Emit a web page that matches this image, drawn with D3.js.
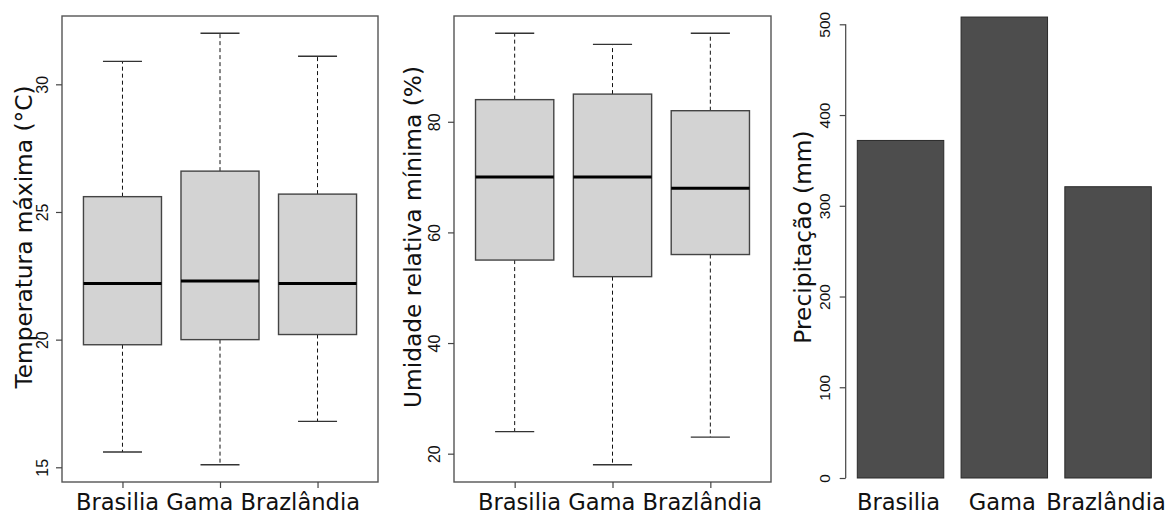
<!DOCTYPE html>
<html>
<head>
<meta charset="utf-8">
<script src="https://cdn.jsdelivr.net/npm/d3@7"></script>
<style>
  html, body { margin: 0; padding: 0; background: #fff; }
  svg { display: block; }
</style>
</head>
<body>
<svg id="chart" width="1170" height="515"></svg>
<script>
// Stations shown in every panel
const categories = ["Brasilia", "Gama", "Brazlândia"];

// Maximum temperature (°C): whisker ends, quartiles and medians
const tempLow    = [15.6, 15.1, 16.8];
const tempQ1     = [19.8, 20.0, 20.2];
const tempMedian = [22.2, 22.3, 22.2];
const tempQ3     = [25.6, 26.6, 25.7];
const tempHigh   = [30.9, 32.0, 31.1];
const tempTicks  = [15, 20, 25, 30];

// Minimum relative humidity (%)
const humLow    = [24, 18, 23];
const humQ1     = [55, 52, 56];
const humMedian = [70, 70, 68];
const humQ3     = [84, 85, 82];
const humHigh   = [96, 94, 96];
const humTicks  = [20, 40, 60, 80];

// Accumulated precipitation (mm)
const precip      = [372, 508, 321];
const precipTicks = [0, 100, 200, 300, 400, 500];

const svg = d3.select("#chart");
const TITLE_FONT = "'DejaVu Sans', Verdana, sans-serif";
const TICK_FONT = "'Liberation Sans', Arial, sans-serif";

// Rotated y-axis labels, reading bottom-to-top
function styleLeftAxis(g, offset) {
  g.select(".domain").remove();
  g.selectAll(".tick line").attr("stroke", "#444").attr("stroke-width", 1.2);
  g.selectAll(".tick text")
    .attr("transform", "rotate(-90)")
    .attr("x", 0)
    .attr("y", -offset)
    .attr("dy", 0)
    .attr("text-anchor", "middle")
    .attr("fill", "#111")
    .style("font-family", TICK_FONT)
    .style("font-size", "16px");
}

function yTitle(x, text) {
  svg.append("text")
    .attr("transform", `translate(${x},237) rotate(-90)`)
    .attr("text-anchor", "middle")
    .style("font-family", TITLE_FONT)
    .style("font-size", "23.3px")
    .attr("fill", "#111")
    .text(text);
}

function boxPanel(opts) {
  const { left, right, top, bottom, low, q1, med, q3, high, ticks, title, titleX, labelShift } = opts;
  const g = svg.append("g");
  // Category positions 1..n with the usual 4% padded range
  const x = d3.scaleLinear().domain([0.38, 3.62]).range([left, right]);
  const lo = d3.min(low), hi = d3.max(high), pad = (hi - lo) * 0.04;
  const y = d3.scaleLinear().domain([lo - pad, hi + pad]).range([bottom, top]);
  const boxW = x(0.8) - x(0);
  const capW = boxW / 2;

  const items = categories.map((c, i) => ({
    c, pos: i + 1, low: low[i], q1: q1[i], med: med[i], q3: q3[i], high: high[i]
  }));

  const box = g.selectAll("g.box").data(items).join("g").attr("class", "box");
  // whiskers
  box.append("line")
    .attr("x1", d => x(d.pos)).attr("x2", d => x(d.pos))
    .attr("y1", d => y(d.q3)).attr("y2", d => y(d.high))
    .attr("stroke", "#111").attr("stroke-width", 1).attr("stroke-dasharray", "4,3");
  box.append("line")
    .attr("x1", d => x(d.pos)).attr("x2", d => x(d.pos))
    .attr("y1", d => y(d.q1)).attr("y2", d => y(d.low))
    .attr("stroke", "#111").attr("stroke-width", 1).attr("stroke-dasharray", "4,3");
  // whisker caps
  ["high", "low"].forEach(k => {
    box.append("line")
      .attr("x1", d => x(d.pos) - capW / 2).attr("x2", d => x(d.pos) + capW / 2)
      .attr("y1", d => y(d[k])).attr("y2", d => y(d[k]))
      .attr("stroke", "#333").attr("stroke-width", 1.3);
  });
  // boxes
  box.append("rect")
    .attr("x", d => x(d.pos) - boxW / 2)
    .attr("width", boxW)
    .attr("y", d => y(d.q3))
    .attr("height", d => y(d.q1) - y(d.q3))
    .attr("fill", "#d3d3d3")
    .attr("stroke", "#444").attr("stroke-width", 1.4);
  // medians
  box.append("line")
    .attr("x1", d => x(d.pos) - boxW / 2).attr("x2", d => x(d.pos) + boxW / 2)
    .attr("y1", d => y(d.med)).attr("y2", d => y(d.med))
    .attr("stroke", "#000").attr("stroke-width", 3);

  // frame
  g.append("rect")
    .attr("x", left).attr("y", top)
    .attr("width", right - left).attr("height", bottom - top)
    .attr("fill", "none").attr("stroke", "#555").attr("stroke-width", 1.4);

  // y axis
  g.append("g")
    .attr("transform", `translate(${left},0)`)
    .call(d3.axisLeft(y).tickValues(ticks).tickSize(6).tickFormat(d3.format("d")))
    .call(a => styleLeftAxis(a, 14));

  // x axis tick marks
  const xa = g.append("g")
    .attr("transform", `translate(0,${bottom})`)
    .call(d3.axisBottom(x).tickValues(items.map(d => d.pos)).tickSize(6).tickFormat(""));
  xa.select(".domain").remove();
  xa.selectAll(".tick line").attr("stroke", "#444").attr("stroke-width", 1.2);

  // station names written as one line under the axis
  g.append("text")
    .attr("x", (left + right) / 2 + labelShift)
    .attr("y", 510)
    .attr("text-anchor", "middle")
    .style("font-family", TITLE_FONT)
    .style("font-size", "22.6px")
    .attr("fill", "#111")
    .text(categories.join(" "));

  yTitle(titleX, title);
}

boxPanel({
  left: 62, right: 378, top: 16, bottom: 482,
  low: tempLow, q1: tempQ1, med: tempMedian, q3: tempQ3, high: tempHigh,
  ticks: tempTicks, title: "Temperatura máxima (°C)", titleX: 32, labelShift: -2
});

boxPanel({
  left: 454, right: 771, top: 16, bottom: 482,
  low: humLow, q1: humQ1, med: humMedian, q3: humQ3, high: humHigh,
  ticks: humTicks, title: "Umidade relativa mínima (%)", titleX: 421, labelShift: 7.5
});

// Precipitation bar chart
(function () {
  const g = svg.append("g");
  const axisX = 845.7;
  const y = d3.scaleLinear().domain([0, 500]).range([478, 24.3]);
  const x = d3.scaleBand().domain(categories).range([857.3, 1151.3])
    .paddingInner(0.2 / 1.2).paddingOuter(0);

  g.selectAll("rect.bar")
    .data(categories.map((c, i) => ({ c, v: precip[i] })))
    .join("rect")
    .attr("class", "bar")
    .attr("x", d => x(d.c))
    .attr("width", x.bandwidth())
    .attr("y", d => y(d.v))
    .attr("height", d => y(0) - y(d.v))
    .attr("fill", "#4d4d4d")
    .attr("stroke", "#2a2a2a")
    .attr("stroke-width", 1);

  const ya = g.append("g")
    .attr("transform", `translate(${axisX},0)`)
    .call(d3.axisLeft(y).tickValues(precipTicks).tickSize(6).tickFormat(d3.format("d")))
    .call(a => styleLeftAxis(a, 15.5));
  ya.selectAll(".tick text").style("font-size", "15.5px");
  // axis line spans the first to last tick
  g.append("line")
    .attr("x1", axisX).attr("x2", axisX)
    .attr("y1", y(precipTicks[0])).attr("y2", y(precipTicks[precipTicks.length - 1]))
    .attr("stroke", "#444").attr("stroke-width", 1.2);

  g.selectAll("text.name")
    .data(categories)
    .join("text")
    .attr("class", "name")
    .attr("x", d => x(d) + x.bandwidth() / 2 - 2)
    .attr("y", 510)
    .attr("text-anchor", "middle")
    .style("font-family", TITLE_FONT)
    .style("font-size", "22.6px")
    .attr("fill", "#111")
    .text(d => d);

  yTitle(811, "Precipitação (mm)");
})();
</script>
</body>
</html>
